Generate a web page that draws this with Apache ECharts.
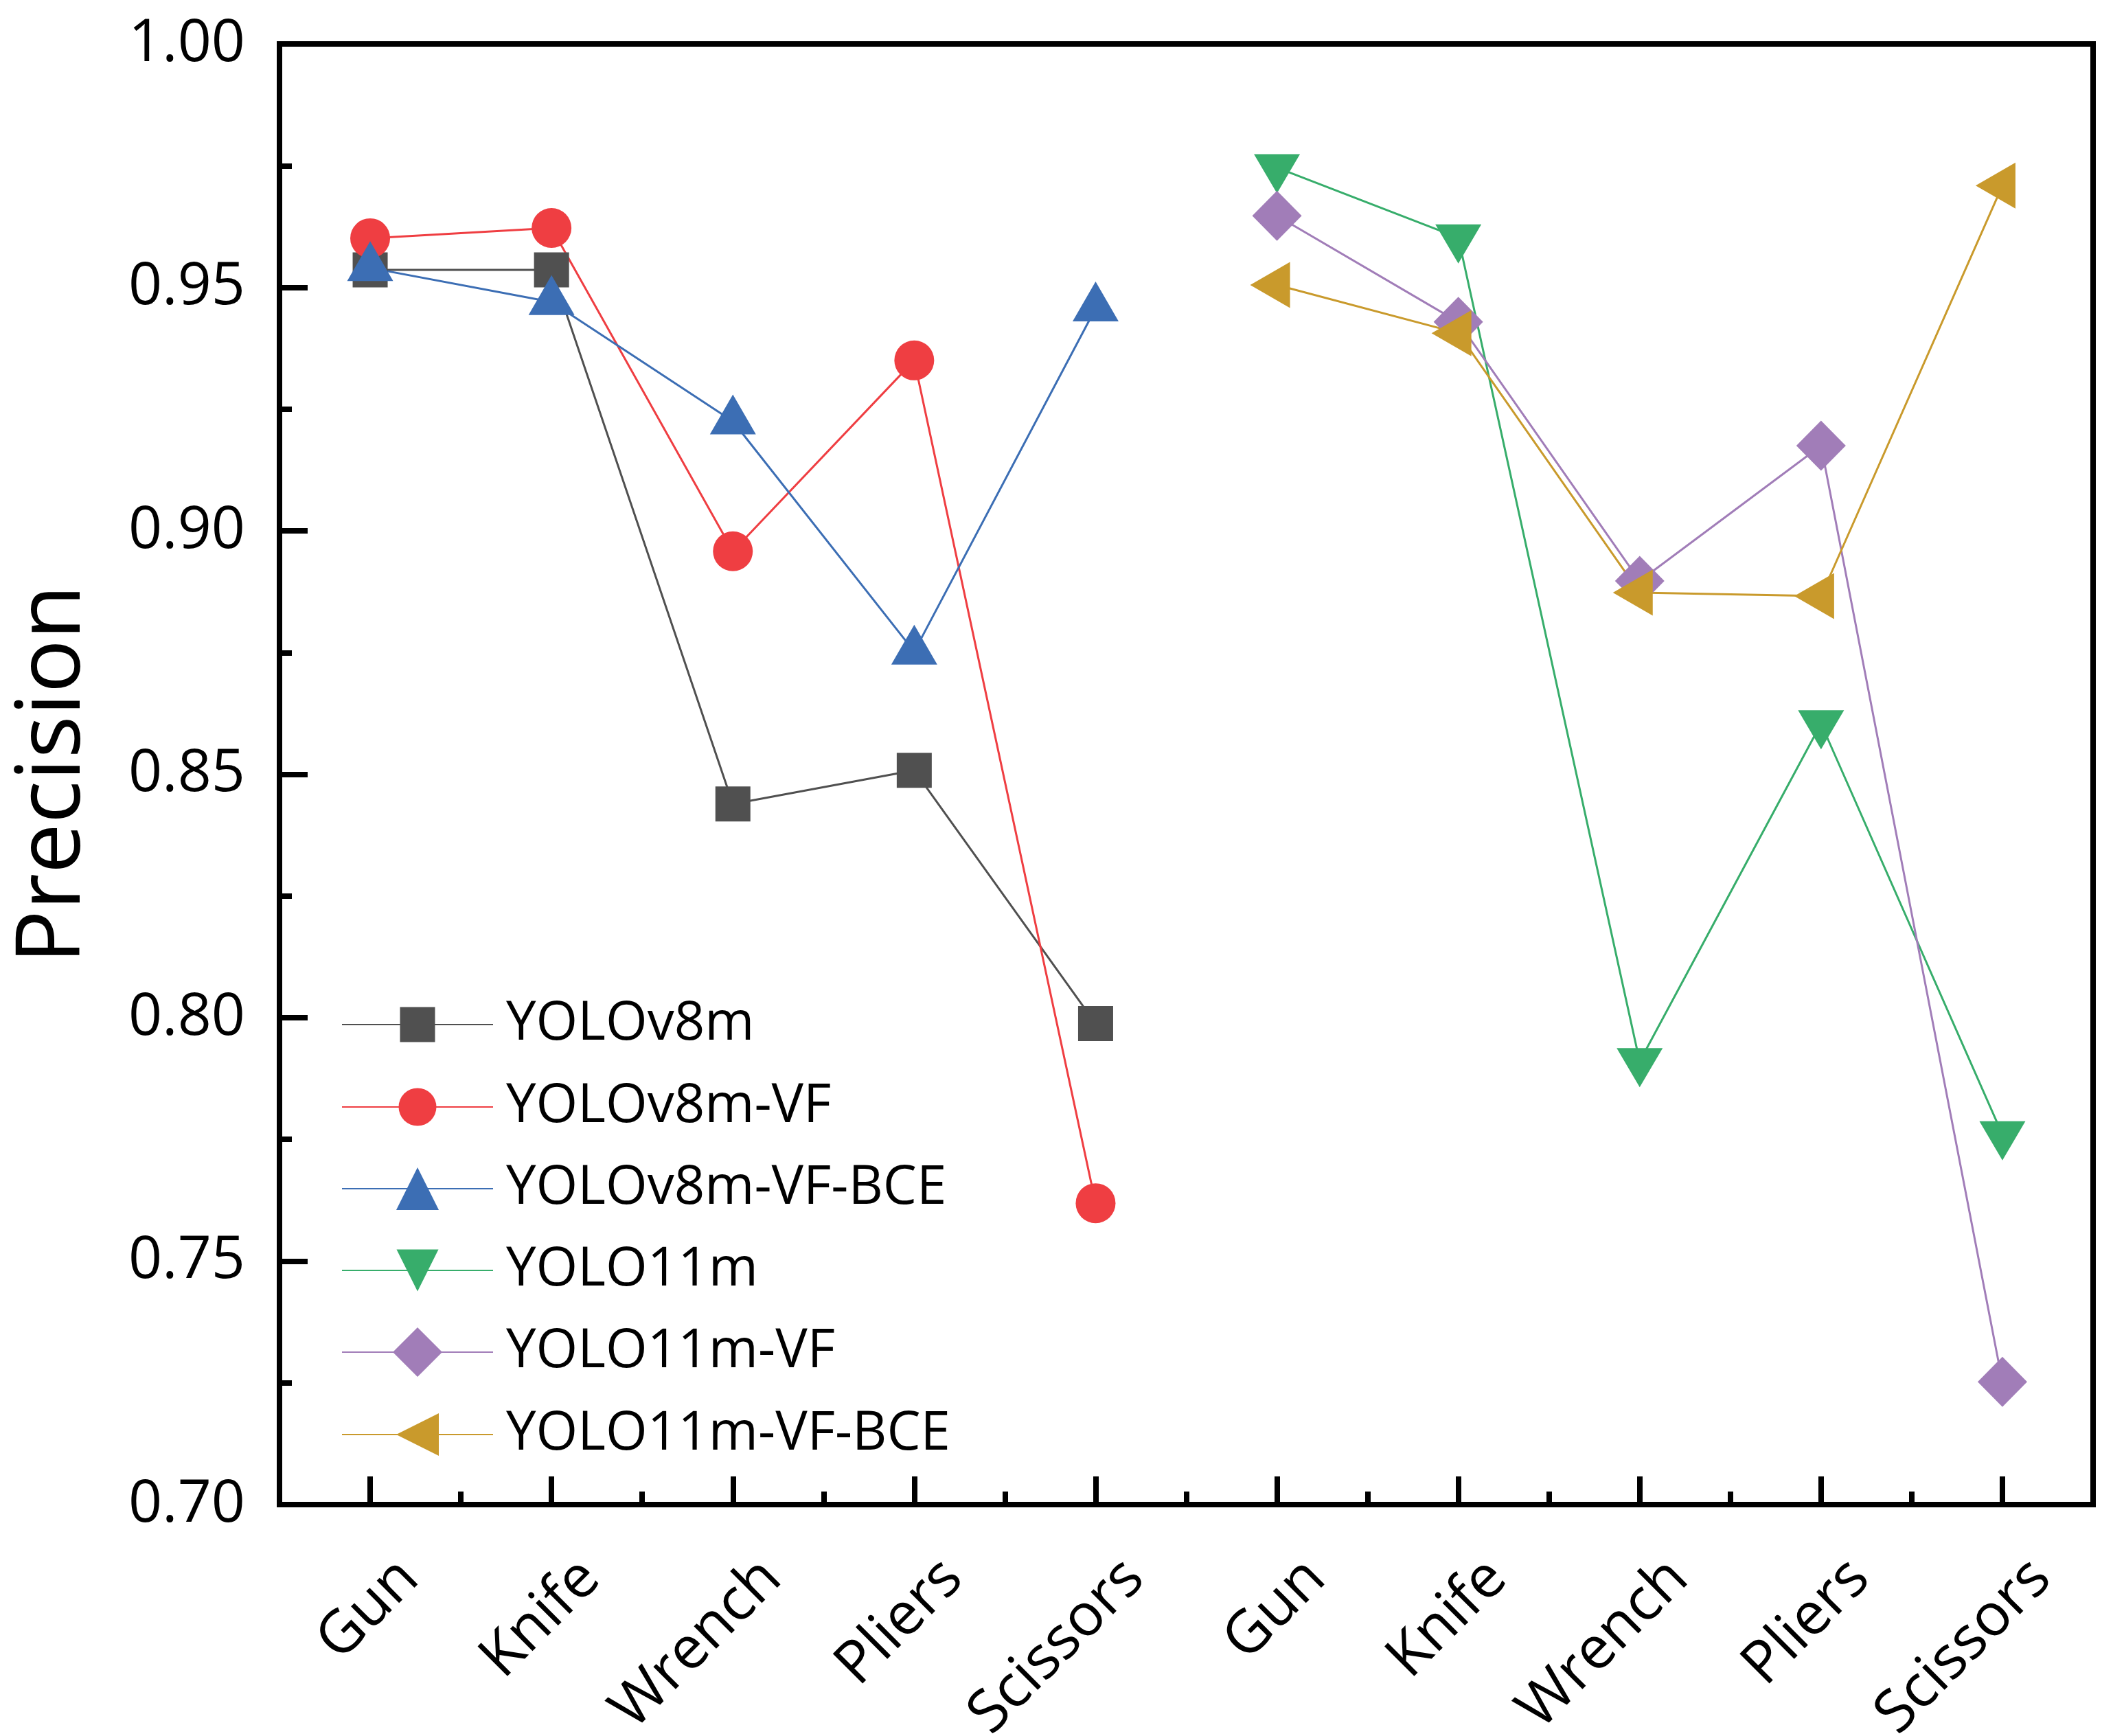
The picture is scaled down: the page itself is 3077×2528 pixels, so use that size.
<!DOCTYPE html>
<html><head><meta charset="utf-8">
<script src="https://cdn.jsdelivr.net/npm/echarts@6/dist/echarts.min.js"></script>
<style>html,body{margin:0;padding:0;background:#fff}#c{width:3077px;height:2528px}</style>
</head><body><div id="c"></div>
<script>
// ---- data ----
const categories = ['Gun', 'Knife', 'Wrench', 'Pliers', 'Scissors', 'Gun', 'Knife', 'Wrench', 'Pliers', 'Scissors'];
const seriesNames = ['YOLOv8m', 'YOLOv8m-VF', 'YOLOv8m-VF-BCE', 'YOLO11m', 'YOLO11m-VF', 'YOLO11m-VF-BCE'];
const yolov8m      = [0.9536, 0.9536, 0.8439, 0.8508, 0.7988, null, null, null, null, null];
const yolov8mVF    = [0.9601, 0.9622, 0.8958, 0.9350, 0.7619, null, null, null, null, null];
const yolov8mVFBCE = [0.9540, 0.9470, 0.9225, 0.8752, 0.9457, null, null, null, null, null];
const yolo11m      = [null, null, null, null, null, 0.9746, 0.9602, 0.7910, 0.8604, 0.7760];
const yolo11mVF    = [null, null, null, null, null, 0.9647, 0.9429, 0.8897, 0.9175, 0.7252];
const yolo11mVFBCE = [null, null, null, null, null, 0.9505, 0.9406, 0.8873, 0.8866, 0.9709];
const yMin = 0.70, yMax = 1.00, yStep = 0.05;
const yTitle = 'Precision';

// ---- styles ----
const FONT = 'Open Sans';
const colors = ['#505050', '#EF3E42', '#3C6EB4', '#37AD6B', '#A17DB8', '#C99A2C'];
const symbols = ['rect', 'circle', 'triangle', 'path://M0,0L10,0L5,10Z', 'diamond', 'path://M0,5L10,0L10,10Z'];
const symbolSizes = [51, 58, [67, 58], [67, 57], [72, 73], [58, 67]];
const symbolOffsets = [[0, 0], [0, 0], [0, -10], [0, 9], [0, 0], [-10, 0]];
const legendRowY = [1492, 1612, 1731, 1850, 1969, 2089];
const legendIcon = [51, 55, 62, 61, 72, 62];
const allData = [yolov8m, yolov8mVF, yolov8mVFBCE, yolo11m, yolo11mVF, yolo11mVFBCE];

const chart = echarts.init(document.getElementById('c'), null, {renderer: 'canvas'});
const option = {
  backgroundColor: '#fff',
  animation: false,
  grid: {left: 407, right: 29, top: 64, bottom: 337, containLabel: false, outerBoundsMode: 'none',
    show: true, borderColor: '#000', borderWidth: 8, backgroundColor: 'transparent'},
  xAxis: [{
    type: 'category', data: categories, boundaryGap: true, position: 'bottom',
    axisLine: {show: false},
    axisTick: {show: true, inside: true, alignWithLabel: true, length: 41, interval: 0, lineStyle: {color: '#000', width: 8}},
    axisLabel: {show: true, interval: 0, rotate: 45, margin: 37, fontFamily: FONT, fontSize: 86, color: '#000',
      verticalAlign: 'top', lineHeight: 161, hideOverlap: false},
    splitLine: {show: false}
  }, {
    type: 'category', data: categories, boundaryGap: true, position: 'bottom',
    axisLine: {show: false},
    axisTick: {show: true, inside: true, alignWithLabel: false, length: 19, interval: 0, lineStyle: {color: '#000', width: 8}},
    axisLabel: {show: false},
    splitLine: {show: false}
  }],
  yAxis: {
    type: 'value', min: yMin, max: yMax, interval: yStep,
    name: yTitle, nameLocation: 'middle', nameGap: 263,
    nameTextStyle: {fontFamily: FONT, fontSize: 130, color: '#000'},
    axisLine: {show: false},
    axisTick: {show: true, inside: true, length: 41, lineStyle: {color: '#000', width: 8}},
    minorTick: {show: true, splitNumber: 2, length: 18, lineStyle: {color: '#000', width: 8}},
    axisLabel: {margin: 50, fontFamily: FONT, fontSize: 86, color: '#000', formatter: v => v.toFixed(2)},
    splitLine: {show: false}
  },
  legend: seriesNames.map((n, i) => ({
    data: [n], left: 497, top: legendRowY[i] - 45, padding: 0, orient: 'horizontal',
    itemWidth: 220, itemHeight: legendIcon[i] / 0.8, selectedMode: false,
    textStyle: {fontFamily: FONT, fontSize: 78, color: '#000', lineHeight: 90, padding: [0, 0, 0, 14]}
  })),
  series: seriesNames.map((n, i) => ({
    name: n, type: 'line', xAxisIndex: 0, data: allData[i],
    symbol: symbols[i], symbolSize: symbolSizes[i], symbolOffset: symbolOffsets[i],
    showAllSymbol: true, connectNulls: false,
    lineStyle: {color: colors[i], width: 3},
    itemStyle: {color: colors[i], borderWidth: 0},
    emphasis: {disabled: true}
  }))
};
chart.setOption(option);
</script></body></html>
